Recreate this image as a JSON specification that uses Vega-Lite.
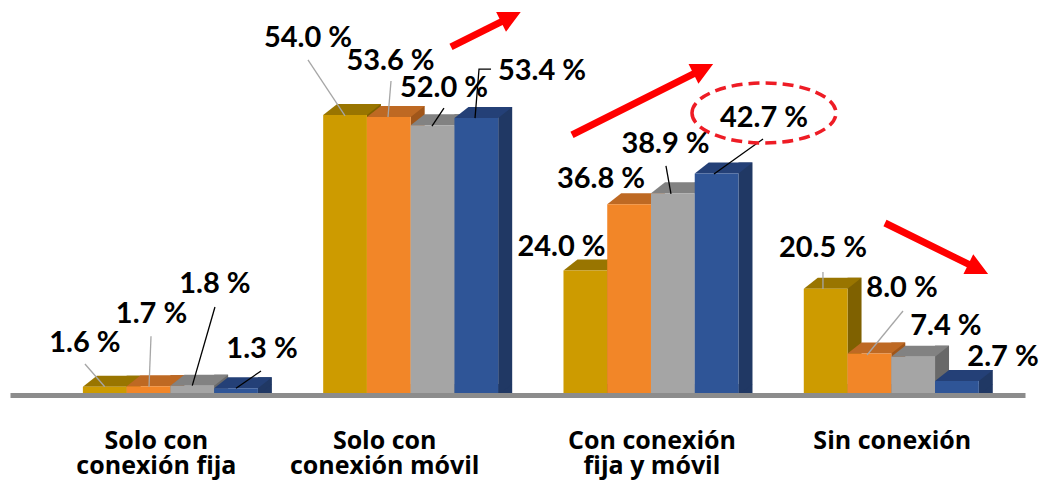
{
  "$schema": "https://vega.github.io/schema/vega-lite/v6.json",
  "width": 1015,
  "height": 363,
  "autosize": "none",
  "padding": {"left": 10, "top": 32, "right": 18, "bottom": 85},
  "background": "white",
  "config": {
    "view": {"stroke": null},
    "text": {"font": "Lato", "fontSize": 29, "fontWeight": "bold", "color": "#000000", "align": "center", "baseline": "alphabetic"}
  },
  "data": {"values": [
    {"grupo": "Solo con conexión fija", "serie": "Serie 1", "valor": 1.6},
    {"grupo": "Solo con conexión fija", "serie": "Serie 2", "valor": 1.7},
    {"grupo": "Solo con conexión fija", "serie": "Serie 3", "valor": 1.8},
    {"grupo": "Solo con conexión fija", "serie": "Serie 4", "valor": 1.3},
    {"grupo": "Solo con conexión móvil", "serie": "Serie 1", "valor": 54.0},
    {"grupo": "Solo con conexión móvil", "serie": "Serie 2", "valor": 53.6},
    {"grupo": "Solo con conexión móvil", "serie": "Serie 3", "valor": 52.0},
    {"grupo": "Solo con conexión móvil", "serie": "Serie 4", "valor": 53.4},
    {"grupo": "Con conexión fija y móvil", "serie": "Serie 1", "valor": 24.0},
    {"grupo": "Con conexión fija y móvil", "serie": "Serie 2", "valor": 36.8},
    {"grupo": "Con conexión fija y móvil", "serie": "Serie 3", "valor": 38.9},
    {"grupo": "Con conexión fija y móvil", "serie": "Serie 4", "valor": 42.7},
    {"grupo": "Sin conexión", "serie": "Serie 1", "valor": 20.5},
    {"grupo": "Sin conexión", "serie": "Serie 2", "valor": 8.0},
    {"grupo": "Sin conexión", "serie": "Serie 3", "valor": 7.4},
    {"grupo": "Sin conexión", "serie": "Serie 4", "valor": 2.7}
  ]},
  "encoding": {
    "x": {
      "field": "grupo", "type": "nominal", "sort": null,
      "scale": {"paddingInner": 0.2717, "paddingOuter": 0.2478, "align": 0.612},
      "axis": {
        "title": null, "ticks": false, "tickSize": 0,
        "domainColor": "#8C8C8C", "domainWidth": 5,
        "labelFont": "Open Sans", "labelFontSize": 25, "labelFontWeight": "bold", "labelColor": "#000000",
        "labelAngle": 0, "labelPadding": 53, "labelBaseline": "alphabetic", "labelLineHeight": 25,
        "labelLimit": 400, "labelOverlap": false, "labelFlush": false,
        "labelOffset": {"condition": [
          {"test": "datum.value == 'Solo con conexión fija'", "value": -14},
          {"test": "datum.value == 'Solo con conexión móvil'", "value": -26}
        ], "value": 1},
        "labelExpr": "[join(slice(split(datum.label, ' '), 0, 2), ' '), join(slice(split(datum.label, ' '), 2), ' ')]",
        "zindex": 1
      }
    },
    "y": {"field": "valor", "type": "quantitative", "stack": null, "scale": {"domain": [0, 70], "nice": false}, "axis": null}
  },
  "resolve": {"scale": {"color": "independent"}},
  "layer": [
    {"transform": [{"filter": "datum.serie == 'Serie 1'"}],
     "mark": {"type": "bar", "width": 14, "xOffset": -36.75, "yOffset": -11, "y2Offset": -11, "color": "#7F6100"}},
    {"transform": [{"filter": "datum.serie == 'Serie 2'"}],
     "mark": {"type": "bar", "width": 14, "xOffset": 7, "yOffset": -11, "y2Offset": -11, "color": "#A0561A"}},
    {"transform": [{"filter": "datum.serie == 'Serie 3'"}],
     "mark": {"type": "bar", "width": 14, "xOffset": 50.75, "yOffset": -11, "y2Offset": -11, "color": "#696969"}},
    {"transform": [{"filter": "datum.serie == 'Serie 4'"}],
     "mark": {"type": "bar", "width": 14, "xOffset": 94.5, "yOffset": -11, "y2Offset": -11, "color": "#203864"}},
    {"mark": {"type": "point", "shape": "M21.875,0L21.875,-11L35.875,-11Z", "size": 4, "filled": true, "opacity": 1, "strokeWidth": 0},
     "encoding": {
       "xOffset": {"field": "serie", "type": "nominal", "sort": null},
       "y": {"datum": 0, "type": "quantitative"},
       "color": {"field": "serie", "type": "nominal", "legend": null, "scale": {"range": ["#7F6100", "#A0561A", "#696969", "#203864"]}}
     }},
    {"mark": {"type": "point", "shape": "M-21.875,0L21.875,0L35.875,-11L-7.875,-11Z", "size": 4, "filled": true, "opacity": 1, "strokeWidth": 0},
     "encoding": {
       "xOffset": {"field": "serie", "type": "nominal", "sort": null},
       "color": {"field": "serie", "type": "nominal", "legend": null, "scale": {"range": ["#997500", "#BE6923", "#828282", "#244077"]}}
     }},
    {"mark": {"type": "bar"},
     "encoding": {
       "xOffset": {"field": "serie", "type": "nominal", "sort": null},
       "color": {"field": "serie", "type": "nominal", "legend": null, "scale": {"range": ["#CD9B00", "#F28628", "#A5A5A5", "#2F5597"]}}
     }},
    {"encoding": {"xOffset": {"field": "serie", "type": "nominal", "sort": null}},
     "layer": [
       {"transform": [{"filter": "datum.grupo == 'Solo con conexión fija' && datum.serie == 'Serie 1'"}],
        "mark": {"type": "point", "shape": "M-19.8,-22.7L0,0", "size": 4, "filled": false, "opacity": 1, "stroke": "#A6A6A6", "strokeWidth": 1.3}},
       {"transform": [{"filter": "datum.grupo == 'Solo con conexión fija' && datum.serie == 'Serie 2'"}],
        "mark": {"type": "point", "shape": "M2.5,-50L0.5,0.5", "size": 4, "filled": false, "opacity": 1, "stroke": "#A6A6A6", "strokeWidth": 1.3}},
       {"transform": [{"filter": "datum.grupo == 'Solo con conexión fija' && datum.serie == 'Serie 3'"}],
        "mark": {"type": "point", "shape": "M22.7,-78.7L0,0", "size": 4, "filled": false, "opacity": 1, "stroke": "#000000", "strokeWidth": 1.3}},
       {"transform": [{"filter": "datum.grupo == 'Solo con conexión fija' && datum.serie == 'Serie 4'"}],
        "mark": {"type": "point", "shape": "M25,-17.3L0,0", "size": 4, "filled": false, "opacity": 1, "stroke": "#000000", "strokeWidth": 1.3}},
       {"transform": [{"filter": "datum.grupo == 'Solo con conexión móvil' && datum.serie == 'Serie 1'"}],
        "mark": {"type": "point", "shape": "M-37.1,-55L0,1", "size": 4, "filled": false, "opacity": 1, "stroke": "#A6A6A6", "strokeWidth": 1.3}},
       {"transform": [{"filter": "datum.grupo == 'Solo con conexión móvil' && datum.serie == 'Serie 2'"}],
        "mark": {"type": "point", "shape": "M2.2,-36L-0.8,0", "size": 4, "filled": false, "opacity": 1, "stroke": "#A6A6A6", "strokeWidth": 1.3}},
       {"transform": [{"filter": "datum.grupo == 'Solo con conexión móvil' && datum.serie == 'Serie 3'"}],
        "mark": {"type": "point", "shape": "M11.4,-17.3L-0.6,0.7", "size": 4, "filled": false, "opacity": 1, "stroke": "#000000", "strokeWidth": 1.3}},
       {"transform": [{"filter": "datum.grupo == 'Solo con conexión móvil' && datum.serie == 'Serie 4'"}],
        "mark": {"type": "point", "shape": "M14.7,-49L2.7,-49L-1.3,0", "size": 4, "filled": false, "opacity": 1, "stroke": "#000000", "strokeWidth": 1.3}},
       {"transform": [{"filter": "datum.grupo == 'Con conexión fija y móvil' && datum.serie == 'Serie 3'"}],
        "mark": {"type": "point", "shape": "M-6.9,-27.3L-1.9,0.7", "size": 4, "filled": false, "opacity": 1, "stroke": "#000000", "strokeWidth": 1.3}},
       {"transform": [{"filter": "datum.grupo == 'Con conexión fija y móvil' && datum.serie == 'Serie 4'"}],
        "mark": {"type": "point", "shape": "M46.4,-34.6L-2.6,0.4", "size": 4, "filled": false, "opacity": 1, "stroke": "#000000", "strokeWidth": 1.3}},
       {"transform": [{"filter": "datum.grupo == 'Sin conexión' && datum.serie == 'Serie 1'"}],
        "mark": {"type": "point", "shape": "M-2.7,-16.7L-2.7,0.3", "size": 4, "filled": false, "opacity": 1, "stroke": "#A6A6A6", "strokeWidth": 1.3}},
       {"transform": [{"filter": "datum.grupo == 'Sin conexión' && datum.serie == 'Serie 2'"}],
        "mark": {"type": "point", "shape": "M33.6,-42.5L-2.4,1.5", "size": 4, "filled": false, "opacity": 1, "stroke": "#A6A6A6", "strokeWidth": 1.3}}
     ]},
    {"encoding": {"xOffset": {"field": "serie", "type": "nominal", "sort": null}},
     "layer": [
       {"transform": [{"filter": "datum.grupo == 'Solo con conexión fija' && datum.serie == 'Serie 1'"}],
        "mark": {"type": "text", "dx": -19.8, "dy": -34.7, "text": {"expr": "format(datum.valor, '.1f') + ' %'"}}},
       {"transform": [{"filter": "datum.grupo == 'Solo con conexión fija' && datum.serie == 'Serie 2'"}],
        "mark": {"type": "text", "dx": 3.0, "dy": -63.2, "text": {"expr": "format(datum.valor, '.1f') + ' %'"}}},
       {"transform": [{"filter": "datum.grupo == 'Solo con conexión fija' && datum.serie == 'Serie 3'"}],
        "mark": {"type": "text", "dx": 22.7, "dy": -92.7, "text": {"expr": "format(datum.valor, '.1f') + ' %'"}}},
       {"transform": [{"filter": "datum.grupo == 'Solo con conexión fija' && datum.serie == 'Serie 4'"}],
        "mark": {"type": "text", "dx": 26.0, "dy": -30.3, "text": {"expr": "format(datum.valor, '.1f') + ' %'"}}},
       {"transform": [{"filter": "datum.grupo == 'Solo con conexión móvil' && datum.serie == 'Serie 1'"}],
        "mark": {"type": "text", "dx": -37.1, "dy": -68, "text": {"expr": "format(datum.valor, '.1f') + ' %'"}}},
       {"transform": [{"filter": "datum.grupo == 'Solo con conexión móvil' && datum.serie == 'Serie 2'"}],
        "mark": {"type": "text", "dx": 1.7, "dy": -47, "text": {"expr": "format(datum.valor, '.1f') + ' %'"}}},
       {"transform": [{"filter": "datum.grupo == 'Solo con conexión móvil' && datum.serie == 'Serie 3'"}],
        "mark": {"type": "text", "dx": 11.4, "dy": -28.3, "text": {"expr": "format(datum.valor, '.1f') + ' %'"}}},
       {"transform": [{"filter": "datum.grupo == 'Solo con conexión móvil' && datum.serie == 'Serie 4'"}],
        "mark": {"type": "text", "dx": 65.7, "dy": -38.1, "text": {"expr": "format(datum.valor, '.1f') + ' %'"}}},
       {"transform": [{"filter": "datum.grupo == 'Con conexión fija y móvil' && datum.serie == 'Serie 1'"}],
        "mark": {"type": "text", "dx": -23.9, "dy": -14.5, "text": {"expr": "format(datum.valor, '.1f') + ' %'"}}},
       {"transform": [{"filter": "datum.grupo == 'Con conexión fija y móvil' && datum.serie == 'Serie 2'"}],
        "mark": {"type": "text", "dx": -28.1, "dy": -16.2, "text": {"expr": "format(datum.valor, '.1f') + ' %'"}}},
       {"transform": [{"filter": "datum.grupo == 'Con conexión fija y móvil' && datum.serie == 'Serie 3'"}],
        "mark": {"type": "text", "dx": -7.4, "dy": -40.3, "text": {"expr": "format(datum.valor, '.1f') + ' %'"}}},
       {"transform": [{"filter": "datum.grupo == 'Con conexión fija y móvil' && datum.serie == 'Serie 4'"}],
        "mark": {"type": "text", "dx": 47.4, "dy": -46.6, "text": {"expr": "format(datum.valor, '.1f') + ' %'"}}},
       {"transform": [{"filter": "datum.grupo == 'Sin conexión' && datum.serie == 'Serie 1'"}],
        "mark": {"type": "text", "dx": -2.7, "dy": -31.7, "text": {"expr": "format(datum.valor, '.1f') + ' %'"}}},
       {"transform": [{"filter": "datum.grupo == 'Sin conexión' && datum.serie == 'Serie 2'"}],
        "mark": {"type": "text", "dx": 32.6, "dy": -56.5, "text": {"expr": "format(datum.valor, '.1f') + ' %'"}}},
       {"transform": [{"filter": "datum.grupo == 'Sin conexión' && datum.serie == 'Serie 3'"}],
        "mark": {"type": "text", "dx": 32.8, "dy": -21.6, "text": {"expr": "format(datum.valor, '.1f') + ' %'"}}},
       {"transform": [{"filter": "datum.grupo == 'Sin conexión' && datum.serie == 'Serie 4'"}],
        "mark": {"type": "text", "dx": 46.1, "dy": -15, "text": {"expr": "format(datum.valor, '.1f') + ' %'"}}}
     ]},
    {"transform": [{"filter": "datum.grupo == 'Solo con conexión móvil' && datum.serie == 'Serie 4'"}],
     "mark": {"type": "point", "shape": "M0,-3.5L56,-3.5L56,-11L78,0L56,11L56,3.5L0,3.5Z", "size": 4, "filled": true, "opacity": 1, "strokeWidth": 0, "fill": "#FF0000", "angle": 333.4, "xOffset": 40.3, "yOffset": -71.1}},
    {"transform": [{"filter": "datum.grupo == 'Con conexión fija y móvil' && datum.serie == 'Serie 4'"}],
     "mark": {"type": "point", "shape": "M0,-3.5L136,-3.5L136,-11L158,0L136,11L136,3.5L0,3.5Z", "size": 4, "filled": true, "opacity": 1, "strokeWidth": 0, "fill": "#FF0000", "angle": 333.3, "xOffset": -79, "yOffset": -38.6}},
    {"transform": [{"filter": "datum.grupo == 'Sin conexión' && datum.serie == 'Serie 4'"}],
     "mark": {"type": "point", "shape": "M0,-3.5L93,-3.5L93,-11L115,0L93,11L93,3.5L0,3.5Z", "size": 4, "filled": true, "opacity": 1, "strokeWidth": 0, "fill": "#FF0000", "angle": 26.3, "xOffset": -6.3, "yOffset": -158}},
    {"transform": [{"filter": "datum.grupo == 'Con conexión fija y móvil' && datum.serie == 'Serie 4'"}],
     "mark": {"type": "point", "shape": "M-72,0A72,30 0 1,1 72,0A72,30 0 1,1 -72,0Z", "size": 4, "filled": false, "opacity": 1, "stroke": "#EE1C25", "strokeWidth": 3.5, "strokeDash": [11, 6], "xOffset": 113, "yOffset": -60.6}}
  ]
}
